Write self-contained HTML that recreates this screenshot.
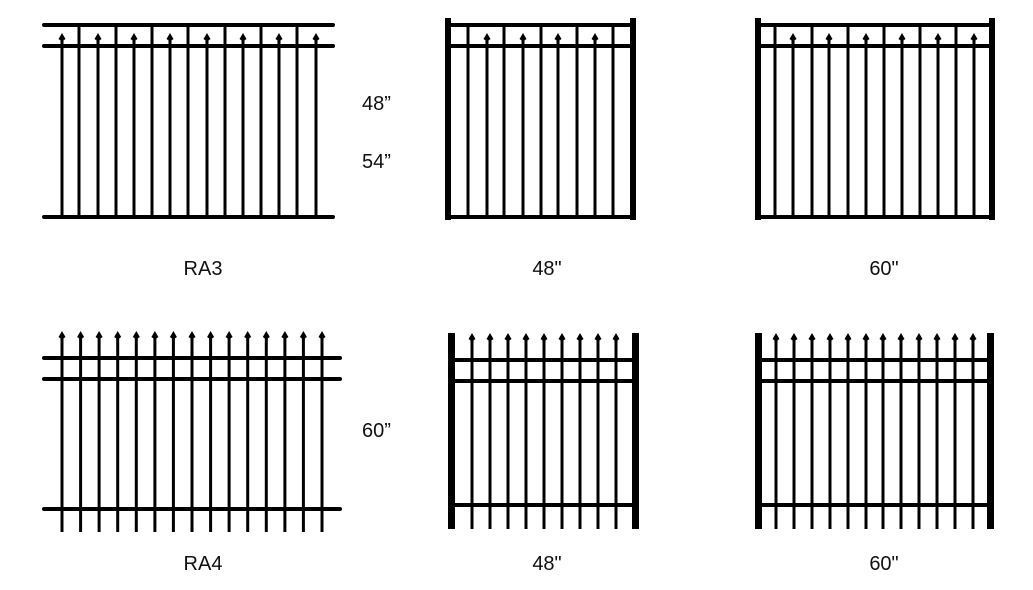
<!DOCTYPE html>
<html><head><meta charset="utf-8"><style>
html,body{margin:0;padding:0;background:#fff;}
svg{display:block}
text{font-family:"Liberation Sans",sans-serif;font-size:20px;fill:#111}
</style></head><body>
<svg width="1033" height="590" viewBox="0 0 1033 590" xmlns="http://www.w3.org/2000/svg">
<defs><polygon id="k" points="0,-5 3.5,1 0,3.5 -3.5,1" fill="#000"/></defs>
<g stroke="#000" stroke-width="3">
<!-- Panel 1 RA3 -->
<line x1="79" y1="25" x2="79" y2="217"/><line x1="116" y1="25" x2="116" y2="217"/><line x1="152" y1="25" x2="152" y2="217"/><line x1="188" y1="25" x2="188" y2="217"/><line x1="225" y1="25" x2="225" y2="217"/><line x1="261" y1="25" x2="261" y2="217"/><line x1="297" y1="25" x2="297" y2="217"/>
<line x1="62" y1="38" x2="62" y2="217"/><line x1="98" y1="38" x2="98" y2="217"/><line x1="134" y1="38" x2="134" y2="217"/><line x1="170" y1="38" x2="170" y2="217"/><line x1="207" y1="38" x2="207" y2="217"/><line x1="243" y1="38" x2="243" y2="217"/><line x1="279" y1="38" x2="279" y2="217"/><line x1="316" y1="38" x2="316" y2="217"/>
<!-- Panel 2 -->
<line x1="468" y1="25" x2="468" y2="217"/><line x1="504" y1="25" x2="504" y2="217"/><line x1="541" y1="25" x2="541" y2="217"/><line x1="577" y1="25" x2="577" y2="217"/><line x1="613" y1="25" x2="613" y2="217"/>
<line x1="487" y1="38" x2="487" y2="217"/><line x1="523" y1="38" x2="523" y2="217"/><line x1="558" y1="38" x2="558" y2="217"/><line x1="595" y1="38" x2="595" y2="217"/>
<!-- Panel 3 -->
<line x1="775" y1="25" x2="775" y2="217"/><line x1="812" y1="25" x2="812" y2="217"/><line x1="848" y1="25" x2="848" y2="217"/><line x1="884" y1="25" x2="884" y2="217"/><line x1="920" y1="25" x2="920" y2="217"/><line x1="956" y1="25" x2="956" y2="217"/>
<line x1="793" y1="38" x2="793" y2="217"/><line x1="829" y1="38" x2="829" y2="217"/><line x1="866" y1="38" x2="866" y2="217"/><line x1="902" y1="38" x2="902" y2="217"/><line x1="938" y1="38" x2="938" y2="217"/><line x1="974" y1="38" x2="974" y2="217"/>
<!-- Panel 4 RA4 -->
<line x1="62" y1="336" x2="62" y2="532"/><line x1="80.6" y1="336" x2="80.6" y2="532"/><line x1="99.1" y1="336" x2="99.1" y2="532"/><line x1="117.7" y1="336" x2="117.7" y2="532"/><line x1="136.3" y1="336" x2="136.3" y2="532"/><line x1="154.9" y1="336" x2="154.9" y2="532"/><line x1="173.4" y1="336" x2="173.4" y2="532"/><line x1="192" y1="336" x2="192" y2="532"/><line x1="210.6" y1="336" x2="210.6" y2="532"/><line x1="229.1" y1="336" x2="229.1" y2="532"/><line x1="247.7" y1="336" x2="247.7" y2="532"/><line x1="266.3" y1="336" x2="266.3" y2="532"/><line x1="284.9" y1="336" x2="284.9" y2="532"/><line x1="303.4" y1="336" x2="303.4" y2="532"/><line x1="322" y1="336" x2="322" y2="532"/>
<!-- Panel 5 -->
<line x1="472" y1="338" x2="472" y2="529"/><line x1="490" y1="338" x2="490" y2="529"/><line x1="508" y1="338" x2="508" y2="529"/><line x1="526" y1="338" x2="526" y2="529"/><line x1="544" y1="338" x2="544" y2="529"/><line x1="562" y1="338" x2="562" y2="529"/><line x1="580" y1="338" x2="580" y2="529"/><line x1="598" y1="338" x2="598" y2="529"/><line x1="616" y1="338" x2="616" y2="529"/>
<!-- Panel 6 -->
<line x1="776" y1="338" x2="776" y2="529"/><line x1="794" y1="338" x2="794" y2="529"/><line x1="812" y1="338" x2="812" y2="529"/><line x1="830" y1="338" x2="830" y2="529"/><line x1="848" y1="338" x2="848" y2="529"/><line x1="866" y1="338" x2="866" y2="529"/><line x1="883" y1="338" x2="883" y2="529"/><line x1="901" y1="338" x2="901" y2="529"/><line x1="919" y1="338" x2="919" y2="529"/><line x1="937" y1="338" x2="937" y2="529"/><line x1="955" y1="338" x2="955" y2="529"/><line x1="973" y1="338" x2="973" y2="529"/>
</g>
<!-- spikes -->
<use href="#k" x="62" y="38"/><use href="#k" x="98" y="38"/><use href="#k" x="134" y="38"/><use href="#k" x="170" y="38"/><use href="#k" x="207" y="38"/><use href="#k" x="243" y="38"/><use href="#k" x="279" y="38"/><use href="#k" x="316" y="38"/>
<use href="#k" x="487" y="38"/><use href="#k" x="523" y="38"/><use href="#k" x="558" y="38"/><use href="#k" x="595" y="38"/>
<use href="#k" x="793" y="38"/><use href="#k" x="829" y="38"/><use href="#k" x="866" y="38"/><use href="#k" x="902" y="38"/><use href="#k" x="938" y="38"/><use href="#k" x="974" y="38"/>
<use href="#k" x="62" y="336"/><use href="#k" x="80.6" y="336"/><use href="#k" x="99.1" y="336"/><use href="#k" x="117.7" y="336"/><use href="#k" x="136.3" y="336"/><use href="#k" x="154.9" y="336"/><use href="#k" x="173.4" y="336"/><use href="#k" x="192" y="336"/><use href="#k" x="210.6" y="336"/><use href="#k" x="229.1" y="336"/><use href="#k" x="247.7" y="336"/><use href="#k" x="266.3" y="336"/><use href="#k" x="284.9" y="336"/><use href="#k" x="303.4" y="336"/><use href="#k" x="322" y="336"/>
<use href="#k" x="472" y="338"/><use href="#k" x="490" y="338"/><use href="#k" x="508" y="338"/><use href="#k" x="526" y="338"/><use href="#k" x="544" y="338"/><use href="#k" x="562" y="338"/><use href="#k" x="580" y="338"/><use href="#k" x="598" y="338"/><use href="#k" x="616" y="338"/>
<use href="#k" x="776" y="338"/><use href="#k" x="794" y="338"/><use href="#k" x="812" y="338"/><use href="#k" x="830" y="338"/><use href="#k" x="848" y="338"/><use href="#k" x="866" y="338"/><use href="#k" x="883" y="338"/><use href="#k" x="901" y="338"/><use href="#k" x="919" y="338"/><use href="#k" x="937" y="338"/><use href="#k" x="955" y="338"/><use href="#k" x="973" y="338"/>
<!-- rails & posts -->
<g fill="#000">
<rect x="42" y="23" width="293" height="4" rx="2"/><rect x="42" y="44" width="293" height="4" rx="2"/><rect x="42" y="215" width="293" height="4" rx="2"/>
<rect x="445" y="18" width="6" height="202"/><rect x="630" y="18" width="6" height="202"/>
<rect x="451" y="23" width="179" height="4"/><rect x="451" y="44" width="179" height="4"/><rect x="451" y="215" width="179" height="4"/>
<rect x="755" y="18" width="6" height="202"/><rect x="989" y="18" width="6" height="202"/>
<rect x="761" y="23" width="228" height="4"/><rect x="761" y="44" width="228" height="4"/><rect x="761" y="215" width="228" height="4"/>
<rect x="42" y="356" width="300" height="4" rx="2"/><rect x="42" y="377" width="300" height="4" rx="2"/><rect x="42" y="507" width="300" height="4" rx="2"/>
<rect x="448" y="333" width="7" height="196"/><rect x="632" y="333" width="7" height="196"/>
<rect x="455" y="358" width="177" height="4"/><rect x="455" y="379" width="177" height="4"/><rect x="455" y="503" width="177" height="4"/>
<rect x="755" y="333" width="7" height="196"/><rect x="987" y="333" width="7" height="196"/>
<rect x="762" y="358" width="225" height="4"/><rect x="762" y="379" width="225" height="4"/><rect x="762" y="503" width="225" height="4"/>
</g>
<text x="362" y="110">48”</text>
<text x="362" y="168">54”</text>
<text x="362" y="437">60”</text>
<text x="203" y="275" text-anchor="middle">RA3</text>
<text x="547" y="275" text-anchor="middle">48"</text>
<text x="884" y="275" text-anchor="middle">60"</text>
<text x="203" y="570" text-anchor="middle">RA4</text>
<text x="547" y="570" text-anchor="middle">48"</text>
<text x="884" y="570" text-anchor="middle">60"</text>
</svg>
</body></html>
